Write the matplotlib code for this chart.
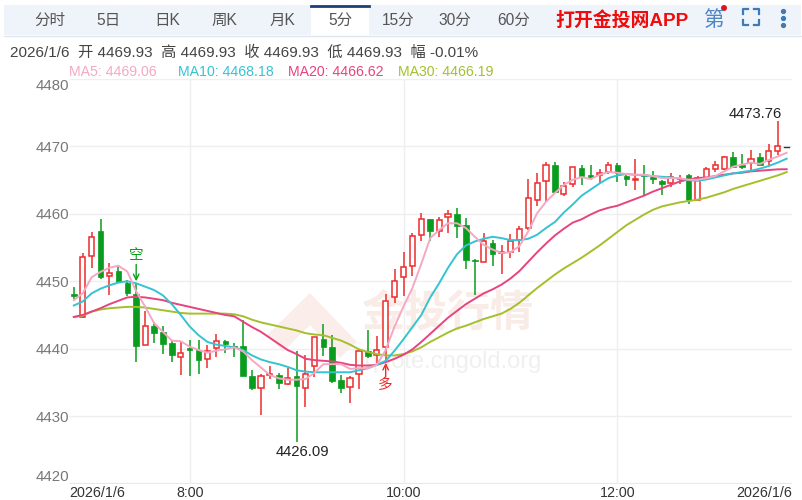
import numpy as np
import matplotlib
matplotlib.use('Agg')
import matplotlib.pyplot as plt
from matplotlib.patches import Rectangle, Polygon, Circle
from matplotlib.transforms import ScaledTranslation

plt.rcParams['font.family'] = ['Liberation Sans', 'Noto Sans CJK SC', 'DejaVu Sans']

# 5 minute candles
opens = [4448.1, 4444.7, 4453.8, 4457.4, 4450.8, 4451.45, 4449.8, 4448.1, 4440.5, 4443.4,
         4442.4, 4440.8, 4438.8, 4440.1, 4439.8, 4438.4, 4440.1, 4441.2, 4440.4, 4440.4,
         4436.0, 4434.2, 4436.05, 4436.1, 4434.7, 4435.9, 4434.1, 4437.5, 4441.5, 4440.3,
         4435.4, 4434.3, 4436.2, 4439.7, 4439.0, 4440.2, 4447.6, 4450.6, 4452.2, 4456.8,
         4459.2, 4457.4, 4459.5, 4460.0, 4458.3, 4453.2, 4452.9, 4455.7, 4454.2, 4454.3,
         4456.1, 4457.9, 4462.1, 4464.8, 4467.2, 4463.0, 4464.4, 4466.8, 4465.7, 4465.8,
         4466.2, 4467.2, 4465.6, 4465.0, 4465.9, 4465.5, 4464.9, 4464.55, 4465.1, 4465.8,
         4462.1, 4465.3, 4466.7, 4466.7, 4468.5, 4467.2, 4467.6, 4468.5, 4467.8, 4469.25,
         4469.93]
highs = [4449.1, 4454.2, 4457.3, 4459.3, 4452.7, 4452.3, 4450.2, 4449.7, 4445.6, 4444.0,
         4443.3, 4441.1, 4441.1, 4441.3, 4441.3, 4440.6, 4442.2, 4441.3, 4440.8, 4444.2,
         4436.8, 4436.3, 4437.5, 4436.4, 4437.2, 4439.6, 4439.1, 4441.8, 4443.7, 4442.0,
         4436.1, 4435.9, 4440.0, 4442.7, 4441.9, 4448.1, 4451.8, 4454.4, 4457.2, 4460.1,
         4459.2, 4459.6, 4460.6, 4460.8, 4459.4, 4453.3, 4457.1, 4456.1, 4455.4, 4457.0,
         4458.2, 4465.15, 4466.0, 4467.7, 4467.7, 4464.65, 4467.0, 4467.2, 4467.3, 4466.7,
         4467.7, 4467.5, 4465.8, 4468.2, 4467.2, 4466.3, 4464.95, 4466.0, 4465.8, 4465.9,
         4465.6, 4467.0, 4467.9, 4468.6, 4469.15, 4468.85, 4469.4, 4469.0, 4470.4, 4473.76,
         4469.93]
lows = [4447.3, 4444.5, 4452.0, 4450.3, 4448.0, 4449.8, 4447.8, 4438.0, 4440.5, 4440.8,
        4439.2, 4438.0, 4436.1, 4436.0, 4436.2, 4437.1, 4438.7, 4439.3, 4438.8, 4436.0,
        4433.9, 4430.2, 4435.5, 4434.0, 4434.6, 4426.09, 4431.4, 4435.8, 4438.9, 4434.9,
        4433.4, 4432.0, 4434.0, 4438.6, 4437.8, 4438.1, 4446.8, 4447.8, 4450.8, 4456.0,
        4455.9, 4456.6, 4457.2, 4456.4, 4451.8, 4448.0, 4452.9, 4452.2, 4451.1, 4453.5,
        4454.3, 4457.6, 4461.1, 4461.7, 4463.1, 4462.6, 4464.0, 4464.3, 4465.0, 4464.55,
        4465.9, 4464.7, 4464.2, 4463.5, 4462.8, 4464.45, 4462.8, 4464.05, 4464.4, 4461.4,
        4462.1, 4465.2, 4466.2, 4466.5, 4467.0, 4466.7, 4466.4, 4467.3, 4467.1, 4468.75,
        4469.93]
closes = [4447.8, 4453.6, 4456.5, 4450.6, 4451.2, 4449.9, 4448.2, 4440.4, 4443.4, 4442.3,
          4440.7, 4439.1, 4439.4, 4439.8, 4438.3, 4439.7, 4441.1, 4440.7, 4440.3, 4436.0,
          4434.1, 4435.9, 4436.2, 4434.9, 4435.6, 4434.4, 4436.2, 4441.7, 4440.3, 4435.2,
          4434.1, 4435.6, 4439.7, 4438.9, 4439.8, 4447.1, 4450.0, 4452.1, 4456.7, 4459.2,
          4457.5, 4459.1, 4459.95, 4458.2, 4453.1, 4453.0, 4456.0, 4454.1, 4454.3, 4456.0,
          4457.8, 4462.3, 4464.5, 4467.2, 4463.2, 4464.2, 4466.9, 4465.6, 4465.5, 4466.0,
          4467.2, 4466.0, 4465.1, 4465.2, 4465.6, 4465.2, 4464.4, 4465.4, 4465.2, 4462.1,
          4465.3, 4466.6, 4467.2, 4468.5, 4467.0, 4467.0, 4468.2, 4467.3, 4469.25, 4470.1,
          4469.93]

ma5 = [4447.2, 4448.2, 4450.6, 4451.4, 4452.0, 4452.3, 4451.45, 4448.5, 4446.25, 4443.8,
       4442.5, 4441.2, 4441.1, 4440.3, 4439.8, 4439.4, 4439.7, 4439.9, 4440.2, 4439.6,
       4438.3, 4437.2, 4436.1, 4435.6, 4435.4, 4435.4, 4435.5, 4436.4, 4437.7, 4437.7,
       4437.7, 4437.0, 4437.1, 4437.1, 4437.6, 4439.8, 4443.3, 4446.25, 4449.0, 4452.6,
       4456.4, 4457.6, 4458.6, 4458.6, 4457.9, 4456.6, 4455.4, 4454.7, 4454.2, 4454.3,
       4455.2, 4457.4, 4460.1, 4461.8, 4463.1, 4464.3, 4465.05, 4465.45, 4465.15, 4465.8,
       4466.2, 4466.1, 4465.9, 4465.8, 4465.8, 4465.6, 4465.3, 4465.3, 4465.3, 4465.05,
       4465.05, 4465.3, 4465.6, 4466.3, 4467.0, 4467.3, 4467.6, 4467.4, 4468.0, 4468.5,
       4469.06]
ma10 = [4446.4, 4447.0, 4448.2, 4448.9, 4449.4, 4449.8, 4450.0, 4449.7, 4449.2, 4448.7,
        4447.9, 4446.6, 4445.0, 4443.3, 4442.0, 4441.0, 4440.6, 4440.4, 4440.2, 4439.8,
        4439.0, 4438.4, 4438.0, 4437.7, 4437.3, 4436.8, 4436.6, 4436.5, 4436.5, 4436.5,
        4436.5, 4436.5, 4436.8, 4437.1, 4437.6, 4438.2, 4439.7, 4441.4, 4443.2, 4445.0,
        4447.6, 4449.7, 4452.0, 4454.0, 4455.3, 4455.9, 4456.3, 4456.6, 4456.4, 4456.1,
        4456.1, 4456.3, 4456.9, 4457.9, 4458.8, 4460.2, 4461.4, 4462.7, 4463.6, 4464.5,
        4465.3, 4465.7, 4465.9, 4465.8, 4465.7, 4465.6, 4465.5, 4465.4, 4465.2, 4465.0,
        4464.9, 4465.1, 4465.4, 4465.7, 4466.0, 4466.2, 4466.4, 4466.7, 4467.1, 4467.6,
        4468.18]
ma20 = [4444.7, 4445.0, 4445.5, 4446.0, 4446.6, 4447.1, 4447.6, 4447.7, 4447.6, 4447.4,
        4447.2, 4446.8, 4446.5, 4446.2, 4445.9, 4445.6, 4445.3, 4445.0, 4444.8, 4444.0,
        4443.2, 4442.5, 4441.6, 4440.7, 4439.8, 4439.2, 4438.5, 4438.3, 4438.2, 4438.1,
        4437.9, 4437.6, 4437.5, 4437.5, 4437.6, 4438.0, 4438.5, 4439.1, 4439.9, 4441.0,
        4442.2, 4443.4, 4444.6, 4445.6, 4446.6, 4447.4, 4448.2, 4448.8, 4449.5, 4450.4,
        4451.5, 4452.9, 4454.3, 4455.6, 4456.8, 4457.8, 4458.7, 4459.2, 4459.9, 4460.5,
        4460.9, 4461.2, 4461.7, 4462.2, 4462.7, 4463.3, 4463.8, 4464.3, 4464.8, 4465.1,
        4465.3, 4465.4, 4465.6, 4465.8, 4466.0, 4466.1, 4466.3, 4466.4, 4466.5, 4466.6,
        4466.62]
ma30 = [4444.7, 4444.9, 4445.5, 4445.8, 4446.0, 4446.1, 4446.2, 4446.2, 4446.1, 4445.9,
        4445.7, 4445.5, 4445.3, 4445.2, 4445.2, 4445.2, 4445.2, 4445.2, 4445.1, 4444.8,
        4444.3, 4443.9, 4443.6, 4443.3, 4443.0, 4442.7, 4442.3, 4442.1, 4442.0, 4441.6,
        4441.2, 4440.6, 4439.9, 4439.5, 4439.2, 4439.0, 4439.0, 4439.2, 4439.6, 4440.2,
        4441.0, 4441.7, 4442.4, 4443.0, 4443.4, 4443.9, 4444.4, 4444.8, 4445.2, 4445.9,
        4446.8, 4447.9, 4449.0, 4450.0, 4451.0, 4451.9, 4452.7, 4453.5, 4454.4, 4455.3,
        4456.3, 4457.3, 4458.3, 4459.1, 4459.9, 4460.6, 4461.1, 4461.4, 4461.7, 4461.9,
        4462.1, 4462.4, 4462.8, 4463.2, 4463.7, 4464.1, 4464.5, 4464.9, 4465.3, 4465.7,
        4466.19]

y_ticks = [4420, 4430, 4440, 4450, 4460, 4470, 4480]
x_ticks = [13, 37, 61]
x_labels = ['8:00', '10:00', '12:00']
tabs = ['分时', '5日', '日K', '周K', '月K', '5分', '15分', '30分', '60分']
tab_x = [50, 108, 167, 224, 282, 340, 398, 455, 514]
header = '2026/1/6  开 4469.93  高 4469.93  收 4469.93  低 4469.93  幅 -0.01%'
legend = [('MA5: 4469.06', 69, '#f5a8c4'), ('MA10: 4468.18', 178, '#35c3d2'),
          ('MA20: 4466.62', 288, '#e8437f'), ('MA30: 4466.19', 398, '#a3c02c')]

red = '#ee2b2b'
green = '#0a9c1e'
grid = '#efefef'

fig = plt.figure(figsize=(8.03, 5.0), dpi=100)

# page furniture in pixel coordinates, under the chart
bg = fig.add_axes([0, 0, 1, 1])
bg.set_xlim(0, 803)
bg.set_ylim(500, 0)
bg.axis('off')
bg.add_patch(Rectangle((4, 5), 797, 30, fc='#eff4fb', ec='none'))
bg.plot([4, 801], [35.5, 35.5], color='#dfe6f0', lw=1)
bg.add_patch(Rectangle((311, 5), 58, 31, fc='white', ec='none'))
bg.plot([311, 369], [5.5, 5.5], color='#1c3f7c', lw=2)
for name, x in zip(tabs, tab_x):
    bg.text(x, 20, name, ha='center', va='center', fontsize=11.2, color='#555555')
bg.text(555, 20, '打开金投网APP', ha='left', va='center', fontsize=13.6, color='#f00c0c', fontweight='bold')
bg.text(714, 20, '第', ha='center', va='center', fontsize=15, color='#4f86c6')
bg.add_patch(Circle((724, 8), 3, fc='#e6101c', ec='none'))
for xs, ys in [([743, 743, 748], [14, 9, 9]), ([754, 759, 759], [9, 9, 14]),
               ([743, 743, 748], [20, 25, 25]), ([754, 759, 759], [25, 25, 20])]:
    bg.plot(xs, ys, color='#3d7ab8', lw=1.6)
bg.plot([783, 783, 783], [11, 18, 25], ls='none', marker='o', ms=2.8, color='#3d7ab8')
bg.text(10, 52.5, header, ha='left', va='center', fontsize=11, color='#444444')
for label, x, col in legend:
    bg.text(x, 72, label, ha='left', va='center', fontsize=10.2, color=col)

# watermark
bg.add_patch(Polygon([(310, 293), (357, 342), (340, 358), (310, 325), (283, 352), (267, 335)],
                     closed=True, fc='#fbeeea', ec='none'))
bg.text(447, 315, '金投行情', ha='center', va='center', fontsize=31, color='#f9ebe6', fontweight='bold')
bg.text(541, 362, 'quote.cngold.org', ha='right', va='center', fontsize=17, color='#f0f0f0')

# chart, x is the candle number
ax = fig.add_axes([69 / 803, (500 - 483.5) / 500, (792 - 69) / 803, (483.5 - 79) / 500])
ax.patch.set_alpha(0)
xmin, xmax = -0.54, 80.6
ax.set_xlim(xmin, xmax)
ax.set_ylim(4420, 4480)
for s in ax.spines.values():
    s.set_visible(False)
ax.set_yticks(y_ticks)
ax.set_yticklabels([str(v) for v in y_ticks], fontsize=10.8, color='#777777')
labs = ax.get_yticklabels()
labs[0].set_va('bottom')
labs[-1].set_va('top')
labs[-1].set_transform(labs[-1].get_transform() + ScaledTranslation(0, -3.5 / 72, fig.dpi_scale_trans))
ax.set_xticks([xmin] + x_ticks + [xmax])
ax.set_xticklabels(['2026/1/6'] + x_labels + ['2026/1/6'], fontsize=10.3, color='#333333')
xl = ax.get_xticklabels()
xl[0].set_ha('left')
xl[-1].set_ha('right')
ax.tick_params(length=0, axis='y', pad=0)
ax.tick_params(length=0, axis='x', pad=1.5)
ax.hlines(y_ticks, xmin, xmax, color=grid, lw=1, zorder=1)
ax.hlines(4420, xmin, xmax, color='#e8e8e8', lw=1.6, zorder=1)
ax.vlines(x_ticks, 4420, 4480, color=grid, lw=1, zorder=1)

idx = np.arange(len(closes))
for i, o, h, l, c in zip(idx, opens, highs, lows, closes):
    if c == o:
        # last unfinished candle, only a dash
        ax.plot([i - 0.3, i + 0.3], [c, c], color='#333333', lw=1, zorder=3)
    elif c > o:
        ax.vlines(i, l, h, color=red, lw=1.1, zorder=2)
        ax.bar(i, c - o, bottom=o, width=0.58, fc='white', ec=red, lw=1.1, zorder=3)
    else:
        ax.vlines(i, l, h, color=green, lw=1.1, zorder=2)
        ax.bar(i, o - c, bottom=c, width=0.62, fc=green, ec=green, lw=0.5, zorder=3)

ax.plot(idx, ma30, color='#a3c02c', lw=1.4, zorder=4)
ax.plot(idx, ma20, color='#e8437f', lw=1.4, zorder=4)
ax.plot(idx, ma10, color='#35c3d2', lw=1.4, zorder=4)
ax.plot(idx, ma5, color='#f5a8c4', lw=1.4, zorder=5)

# price labels and the trade marks
ax.annotate('4473.76', (79, 4473.76), xytext=(-16, 0), textcoords='offset points',
            ha='center', va='bottom', fontsize=10.6, color='#222222')
ax.annotate('4426.09', (25, 4426.09), xytext=(4, -2), textcoords='offset points',
            ha='center', va='top', fontsize=10.6, color='#222222')
ax.annotate('', (7, 4450.0), xytext=(7, 4452.5), zorder=6,
            arrowprops=dict(arrowstyle='->', color=green, lw=1, shrinkA=0, shrinkB=0))
ax.text(7, 4453.9, '空', ha='center', va='center', fontsize=10.5, color=green, zorder=6)
ax.annotate('', (35, 4437.9), xytext=(35, 4435.8), zorder=6,
            arrowprops=dict(arrowstyle='->', color=red, lw=1, shrinkA=0, shrinkB=0))
ax.text(35, 4434.6, '多', ha='center', va='center', fontsize=10.5, color=red, zorder=6)

plt.savefig('out.png', dpi=100)
